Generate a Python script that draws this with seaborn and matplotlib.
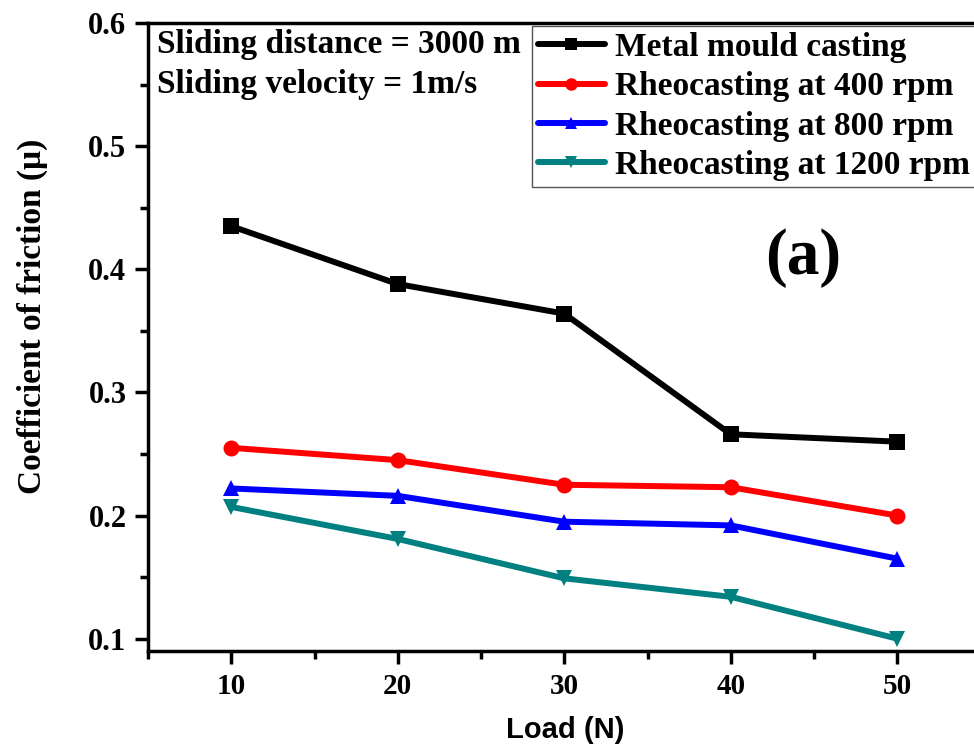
import matplotlib
matplotlib.use("Agg")
import matplotlib.pyplot as plt
import seaborn as sns
import pandas as pd
from matplotlib.ticker import MultipleLocator

loads = [10, 20, 30, 40, 50]
metal_mould = [0.435, 0.388, 0.364, 0.266, 0.260]
rheo_400 = [0.255, 0.245, 0.225, 0.223, 0.200]
rheo_800 = [0.222, 0.216, 0.195, 0.192, 0.165]
rheo_1200 = [0.207, 0.181, 0.149, 0.134, 0.100]
series_names = ["Metal mould casting", "Rheocasting at 400 rpm",
                "Rheocasting at 800 rpm", "Rheocasting at 1200 rpm"]
colors = ["#000000", "#ff0000", "#0000ff", "#008080"]
markers = ["s", "o", "^", "v"]
y_ticks = [0.1, 0.2, 0.3, 0.4, 0.5, 0.6]

rows = []
for name, vals in zip(series_names, [metal_mould, rheo_400, rheo_800, rheo_1200]):
    for x, y in zip(loads, vals):
        rows.append({"Load": x, "COF": y, "Series": name})
df = pd.DataFrame(rows)

sns.set_theme(style="ticks")
plt.rcParams['font.family'] = ['Liberation Serif', 'DejaVu Serif']
plt.rcParams['font.weight'] = 'bold'
plt.rcParams['text.color'] = 'black'
plt.rcParams['axes.labelcolor'] = 'black'
plt.rcParams['xtick.color'] = 'black'
plt.rcParams['ytick.color'] = 'black'

fig = plt.figure(figsize=(9.74, 7.49), dpi=100)
ax = fig.add_axes([148/974, 98/749, 832.5/974, 628/749])

sns.lineplot(data=df, x="Load", y="COF", hue="Series", style="Series",
             hue_order=series_names, style_order=series_names,
             palette=dict(zip(series_names, colors)),
             markers=dict(zip(series_names, markers)),
             dashes=False, linewidth=4.3, markersize=11.5, markeredgewidth=0,
             ax=ax, legend=True)

ax.set_xlim(5, 55)
ax.set_ylim(0.09, 0.6)
ax.xaxis.set_minor_locator(MultipleLocator(5))
ax.yaxis.set_minor_locator(MultipleLocator(0.05))
ax.set_xticks(loads)
ax.set_xticklabels([str(v) for v in loads])
ax.set_yticks(y_ticks)
ax.set_yticklabels([f"{v:.1f}" for v in y_ticks])

for s in ax.spines.values():
    s.set_linewidth(2.5)
    s.set_color("black")

ax.tick_params(axis="both", which="major", direction="out", length=9.5, width=2.5,
               color="black", pad=6)
ax.tick_params(axis="x", which="major", labelsize=21)
ax.tick_params(axis="y", which="major", labelsize=22)
ax.tick_params(axis="both", which="minor", direction="out", length=6, width=2.5, color="black")

ax.set_xlabel("Load (N)", fontsize=21, fontweight="bold", family=["Liberation Sans"])
ax.xaxis.set_label_coords((565 - 148) / 832.5, -(716 - 651) / 628)
ax.set_ylabel("Coefficient of friction (\u03bc)", fontsize=24, fontweight="bold",
              family=["Liberation Serif"])
ax.yaxis.set_label_coords(-(148 - 48) / 832.5, (651 - 316) / 628)

fig.text(157/974, 1-45/749, "Sliding distance = 3000 m",
         fontsize=24, fontweight="bold", va="center", ha="left")
fig.text(157/974, 1-85/749, "Sliding velocity = 1m/s",
         fontsize=24, fontweight="bold", va="center", ha="left")
fig.text(803/974, 1-258/749, "(a)",
         fontsize=47, fontweight="bold", va="center", ha="center")

handles, labels = ax.get_legend_handles_labels()
for h in handles:
    h.set_markersize(9)
leg = ax.legend(handles, labels, loc="upper left",
                bbox_to_anchor=(532/974, 1-26/749), bbox_transform=fig.transFigure,
                prop={"family": "Liberation Serif", "weight": "bold", "size": 24},
                frameon=True, fancybox=False, edgecolor="#555555", framealpha=1,
                handlelength=2.0, handletextpad=0.3, borderpad=0.18,
                labelspacing=0.25, borderaxespad=0)
leg.get_frame().set_linewidth(1)

fig.savefig("out.png", dpi=100)
